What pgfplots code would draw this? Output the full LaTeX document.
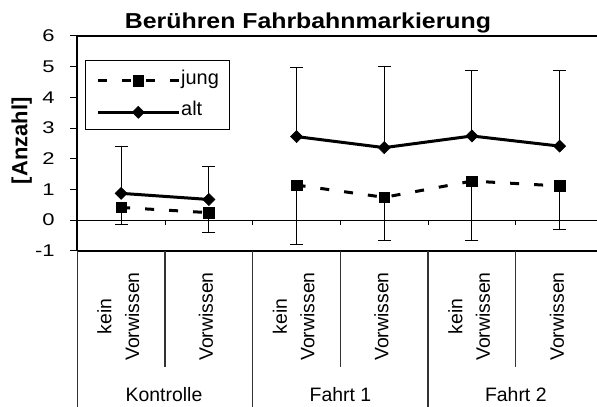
\documentclass[border=0pt]{standalone}
\usepackage{pgfplots}
\pgfplotsset{compat=1.18}
\usepackage{pgfplotstable}
\usepackage{fontspec}
\setmainfont{Liberation Sans}
\newfontfamily\tickfont{Liberation Sans}[FakeStretch=1.3]
\newfontfamily\titlefont{Liberation Sans}[FakeStretch=1.15]

\pgfplotstableread{
x y e
0 0.41 0.57
1 0.24 0.65
1.5 nan 0
2 1.14 1.93
3 0.74 1.41
4 1.27 1.94
5 1.11 1.41
}\jungdata
\pgfplotstableread{
x y e
0 0.87 1.54
1 0.67 1.07
1.5 nan 0
2 2.72 2.24
3 2.36 2.63
4 2.74 2.12
5 2.41 2.45
}\altdata

\begin{document}
\begin{tikzpicture}
\useasboundingbox (0,0) rectangle (597bp,407bp);
\clip (0,0) rectangle (597bp,407bp);
\begin{axis}[
  at={(77.3bp,156.3bp)}, anchor=south west,
  scale only axis, width=519.7bp, height=214.7bp,
  xmin=-0.5, xmax=5.426, ymin=-1, ymax=6,
  axis x line=none, axis y line*=left,
  axis line style={line width=2.3bp, black},
  ytick={-1,0,1,2,3,4,5,6},
  yticklabels={-1,0,1,2,3,4,5,6},
  tick align=outside, major tick length=7bp,
  y tick style={line width=1bp, black},
  yticklabel style={font=\tickfont\fontsize{17}{19}\selectfont, inner sep=0pt, anchor=east, xshift=-15.5bp},
  clip=false,
  unbounded coords=jump,
  legend style={at={(rel axis cs:0.0148,0.887)}, anchor=north west,
    draw=black, line width=1bp, fill=white,
    font=\fontsize{20}{24}\selectfont,
    inner xsep=11bp, inner ysep=9bp, row sep=13bp,
    nodes={inner sep=0pt, text height=14.5bp, text depth=4.2bp},
    column sep=1bp},
  legend cell align=left,
  legend image code/.code={\draw[#1, mark repeat=2, mark phase=2] plot coordinates {(0bp,-1.5bp) (40.35bp,-1.5bp) (80.7bp,-1.5bp)};},
]
\draw[line width=1bp, black] (rel axis cs:0,0.142857) -- (rel axis cs:1,0.142857);
\draw[line width=1.3bp, black] (rel axis cs:0,1) -- (rel axis cs:1,1);
\draw[line width=2.3bp, black] (rel axis cs:0,0) -- (rel axis cs:1,0);
\addplot[black, line width=3bp, dash pattern=on 9bp off 15bp, mark=square*, mark size=5.25bp,
  mark options={solid, line width=0.5bp},
  error bars/.cd, y dir=minus, y explicit,
  error bar style={solid, line width=1bp, black},
  error mark options={solid, line width=1bp, black, mark size=6.5bp, rotate=90}]
  table[x=x, y=y, y error=e] {\jungdata};
\addlegendentry{jung}
\addplot[black, line width=3bp, mark=square*, mark size=4.3bp,
  mark options={solid, rotate=45, line width=0.5bp},
  error bars/.cd, y dir=plus, y explicit,
  error bar style={solid, line width=1bp, black},
  error mark options={solid, line width=1bp, black, mark size=6.5bp, rotate=90}]
  table[x=x, y=y, y error=e] {\altdata};
\addlegendentry{alt}
\end{axis}
% zero-line ticks
\foreach \xx in {165.0,252.7,340.4,428.1,515.8}{
  \draw[line width=1bp, black] (\xx bp,187bp) -- (\xx bp,182bp);
}
% category separators
\foreach \xx in {165.0,340.4,515.8}{
  \draw[line width=1.3bp, black!80] (\xx bp,156.3bp) -- (\xx bp,40.3bp);
}
\foreach \xx in {77.3,252.7,428.1}{
  \draw[line width=1.3bp, black!80] (\xx bp,156.3bp) -- (\xx bp,0bp);
}
% category labels
\begin{scope}[every node/.style={rotate=90, anchor=east, align=center, inner sep=0pt, font=\fontsize{19.5}{27.7}\selectfont}]
\node at (118.3bp,135bp) {kein\\Vorwissen};
\node at (206.0bp,135bp) {Vorwissen};
\node at (293.7bp,135bp) {kein\\Vorwissen};
\node at (381.4bp,135bp) {Vorwissen};
\node at (469.1bp,135bp) {kein\\Vorwissen};
\node at (556.8bp,135bp) {Vorwissen};
\end{scope}
\begin{scope}[every node/.style={anchor=base, inner sep=0pt, font=\fontsize{19.5}{22}\selectfont}]
\node at (164bp,5.3bp) {Kontrolle};
\node at (340.4bp,5.3bp) {Fahrt 1};
\node at (515.8bp,5.3bp) {Fahrt 2};
\end{scope}
\node[anchor=base, inner sep=0pt, font=\titlefont\bfseries\fontsize{21.7}{26}\selectfont] at (308bp,378.7bp) {Berühren Fahrbahnmarkierung};
\node[rotate=90, inner sep=0pt, font=\bfseries\fontsize{22}{26}\selectfont] at (21.7bp,266.2bp) {[Anzahl]};
\end{tikzpicture}
\end{document}
